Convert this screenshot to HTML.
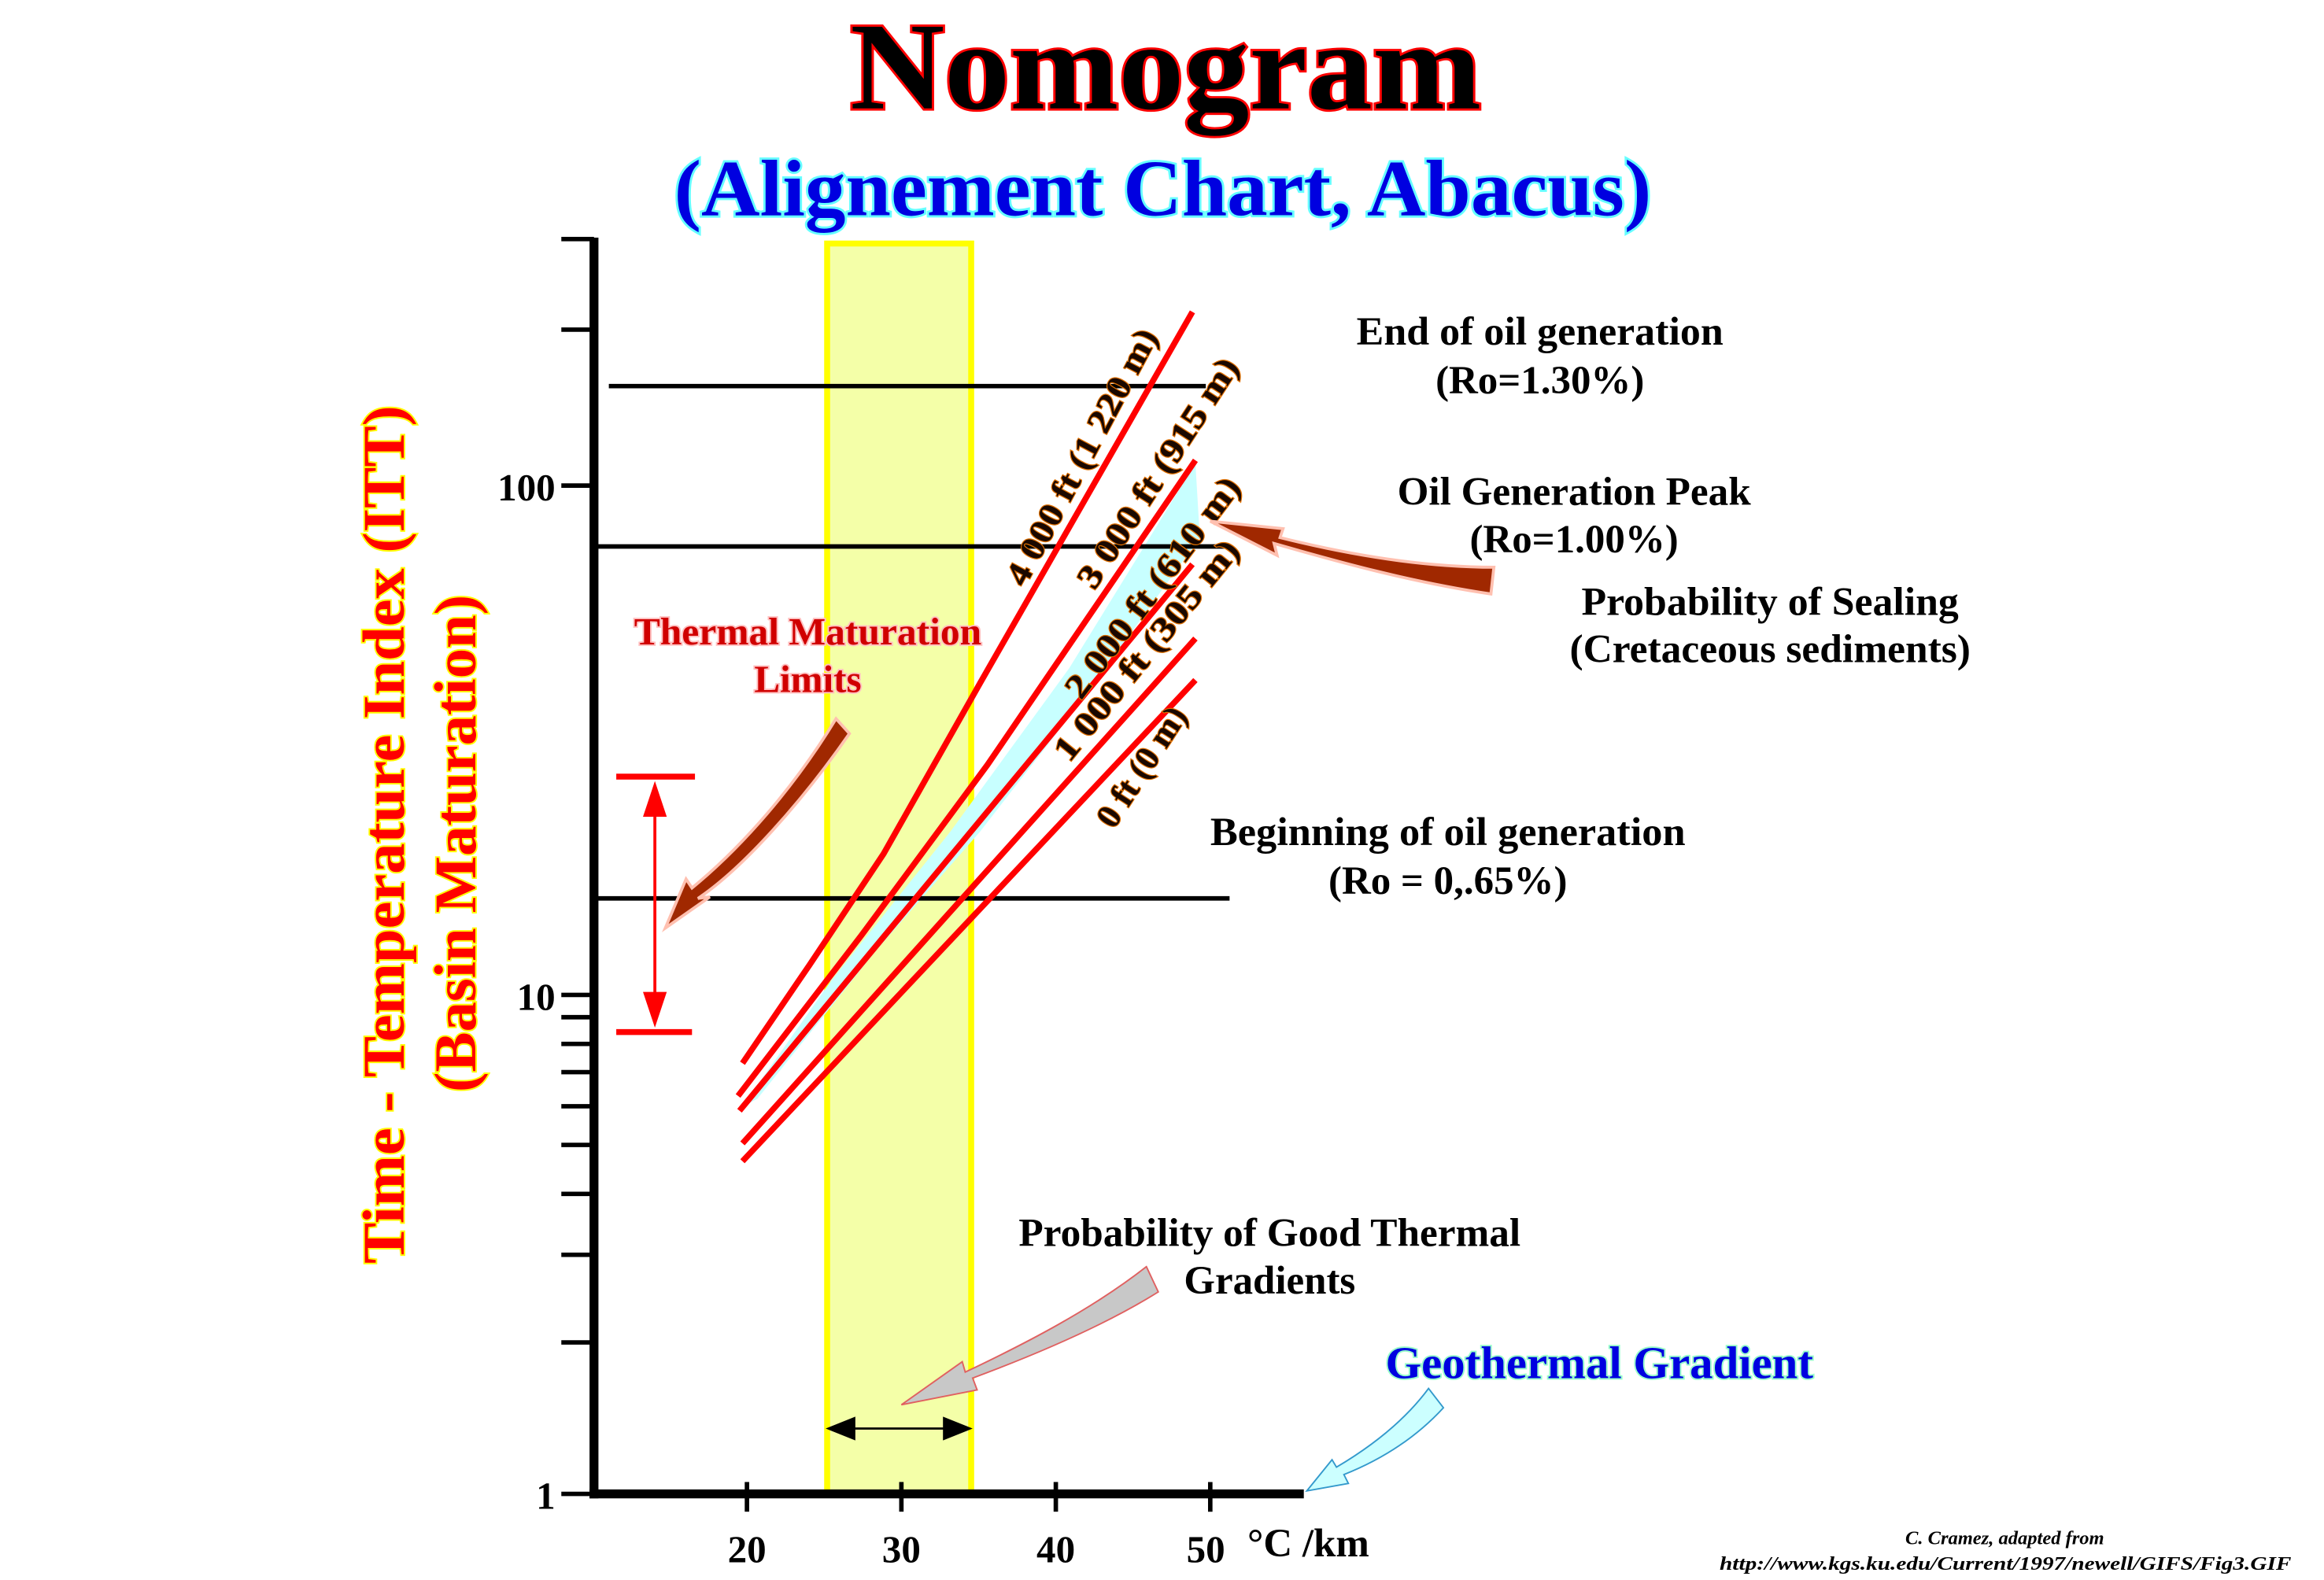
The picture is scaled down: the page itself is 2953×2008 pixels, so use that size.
<!DOCTYPE html>
<html><head><meta charset="utf-8"><style>html,body{margin:0;padding:0;background:#fff}svg{display:block}</style></head>
<body>
<svg width="2953" height="2008" viewBox="0 0 1565 1064" preserveAspectRatio="none" xmlns="http://www.w3.org/2000/svg" font-family="Liberation Serif, serif" font-weight="bold">
<rect width="1565" height="1064" fill="#fff"/>
<!-- titles -->
<text x="785" y="73" text-anchor="middle" font-size="84" fill="#000" stroke="#ff0000" stroke-width="3" paint-order="stroke" textLength="425" lengthAdjust="spacingAndGlyphs">Nomogram</text>
<text x="783" y="145" text-anchor="middle" font-size="54" fill="#0000e0" stroke="#66ffff" stroke-width="3" paint-order="stroke" textLength="658" lengthAdjust="spacingAndGlyphs">(Alignement Chart, Abacus)</text>
<!-- yellow band -->
<rect x="557" y="164" width="97" height="842" fill="#f4ffa8" stroke="#ffff00" stroke-width="4"/>
<!-- cyan region -->
<polygon points="805,312 808,362 730,470 660,560 590,640 510,740 500,745 560,660 640,560 720,450" fill="#c8ffff"/>
<!-- horizontal lines -->
<g stroke="#000" stroke-width="3">
<line x1="410" y1="260" x2="812" y2="260"/>
<line x1="400" y1="368" x2="827" y2="368"/>
<line x1="400" y1="605" x2="828" y2="605"/>
</g>
<!-- red lines -->
<g stroke="#ff0000" stroke-width="4" fill="none">
<polyline points="500,716 545,650 595,575 660,460 803,210"/>
<polyline points="497,738 580,630 665,515 805,310"/>
<polyline points="498,748 803,380"/>
<polyline points="500,770 805,430"/>
<polyline points="500,782 805,458"/>
</g>
<!-- line labels -->
<g font-size="23" fill="#1a0800" stroke="#e07000" stroke-width="1.2" paint-order="stroke">
<text transform="translate(690,396) rotate(-62)" textLength="192" lengthAdjust="spacingAndGlyphs">4 000 ft (1 220 m)</text>
<text transform="translate(737,398) rotate(-57)" textLength="180" lengthAdjust="spacingAndGlyphs">3 000 ft (915 m)</text>
<text transform="translate(728,472) rotate(-53)" textLength="180" lengthAdjust="spacingAndGlyphs">2 000 ft (610 m)</text>
<text transform="translate(720,514) rotate(-51)" textLength="184" lengthAdjust="spacingAndGlyphs">1 000 ft (305 m)</text>
<text transform="translate(750,559) rotate(-57)" textLength="92" lengthAdjust="spacingAndGlyphs">0 ft (0 m)</text>
</g>
<!-- axes -->
<g stroke="#000">
<line x1="400" y1="160" x2="400" y2="1009" stroke-width="6"/>
<line x1="397" y1="1006" x2="878" y2="1006" stroke-width="6"/>
<g stroke-width="3">
<line x1="378" y1="161" x2="400" y2="161"/>
<line x1="378" y1="222" x2="400" y2="222"/>
<line x1="378" y1="327" x2="400" y2="327"/>
<line x1="378" y1="670" x2="400" y2="670"/>
<line x1="378" y1="685" x2="400" y2="685"/>
<line x1="378" y1="703" x2="400" y2="703"/>
<line x1="378" y1="722" x2="400" y2="722"/>
<line x1="378" y1="745" x2="400" y2="745"/>
<line x1="378" y1="771" x2="400" y2="771"/>
<line x1="378" y1="804" x2="400" y2="804"/>
<line x1="378" y1="845" x2="400" y2="845"/>
<line x1="378" y1="904" x2="400" y2="904"/>
<line x1="378" y1="1006" x2="400" y2="1006"/>
<line x1="503" y1="998" x2="503" y2="1018"/>
<line x1="607" y1="998" x2="607" y2="1018"/>
<line x1="711" y1="998" x2="711" y2="1018"/>
<line x1="815" y1="998" x2="815" y2="1018"/>
</g></g>
<g font-size="26" fill="#000">
<text x="374" y="1016" text-anchor="end">1</text>
<text x="374" y="680" text-anchor="end">10</text>
<text x="374" y="337" text-anchor="end">100</text>
<text x="503" y="1052" text-anchor="middle">20</text>
<text x="607" y="1052" text-anchor="middle">30</text>
<text x="711" y="1052" text-anchor="middle">40</text>
<text x="812" y="1052" text-anchor="middle">50</text>
<text x="840" y="1048" font-size="27">°C /km</text>
</g>
<!-- y axis title -->
<g font-size="40" fill="#ff0000" stroke="#ffff00" stroke-width="2" paint-order="stroke" text-anchor="middle">
<text transform="translate(272,562) rotate(-90)" textLength="578" lengthAdjust="spacingAndGlyphs">Time - Temperature Index (ITT)</text>
<text transform="translate(320,568) rotate(-90)" textLength="335" lengthAdjust="spacingAndGlyphs">(Basin Maturation)</text>
</g>
<!-- annotations -->
<g font-size="27" fill="#000" text-anchor="middle">
<text x="1037" y="232" textLength="247" lengthAdjust="spacingAndGlyphs">End of oil generation</text>
<text x="1037" y="265">(Ro=1.30%)</text>
<text x="1060" y="340" textLength="238" lengthAdjust="spacingAndGlyphs">Oil Generation Peak</text>
<text x="1060" y="372">(Ro=1.00%)</text>
<text x="1192" y="414" textLength="254" lengthAdjust="spacingAndGlyphs">Probability of Sealing</text>
<text x="1192" y="446" textLength="270" lengthAdjust="spacingAndGlyphs">(Cretaceous sediments)</text>
<text x="975" y="569" textLength="320" lengthAdjust="spacingAndGlyphs">Beginning of oil generation</text>
<text x="975" y="602">(Ro = 0,.65%)</text>
<text x="855" y="839" textLength="338" lengthAdjust="spacingAndGlyphs">Probability of Good Thermal</text>
<text x="855" y="871">Gradients</text>
</g>
<text x="1077" y="928" text-anchor="middle" font-size="31" fill="#0000e0" stroke="#99ffcc" stroke-width="2" paint-order="stroke" textLength="288" lengthAdjust="spacingAndGlyphs">Geothermal Gradient</text>
<g font-size="26" fill="#d00000" stroke="#ffc0c0" stroke-width="2" paint-order="stroke" text-anchor="middle">
<text x="544" y="434" textLength="234" lengthAdjust="spacingAndGlyphs">Thermal Maturation</text>
<text x="544" y="466">Limits</text>
</g>
<!-- bracket -->
<g stroke="#ff0000" fill="#ff0000">
<line x1="415" y1="523" x2="468" y2="523" stroke-width="4"/>
<line x1="415" y1="695" x2="466" y2="695" stroke-width="4"/>
<line x1="441" y1="540" x2="441" y2="678" stroke-width="2"/>
<polygon points="441,526 433,550 449,550" stroke="none"/>
<polygon points="441,692 433,668 449,668" stroke="none"/>
</g>
<!-- brown arrows -->
<path d="M563,484 L572,494 C540,540 500,585 470,605 L478,604 L448,625 L462,592 L466,598 C500,570 535,530 563,484 Z" fill="#a02800" stroke="#ffc0b0" stroke-width="2"/>
<path d="M1006,382 L1004,400 C950,392 900,378 858,366 L860,374 L815,351 L864,356 L862,362 C910,374 960,382 1006,382 Z" fill="#a02800" stroke="#ffc0b0" stroke-width="2"/>
<!-- grey arrow -->
<path d="M772,853 L780,870 C740,895 690,915 655,928 L658,936 L607,946 L648,917 L650,924 C690,905 735,882 772,853 Z" fill="#c8c8c8" stroke="#e06060" stroke-width="1"/>
<!-- cyan arrow -->
<path d="M962,935 L972,948 C950,972 925,985 905,993 L908,999 L880,1004 L897,983 L900,988 C922,975 945,958 962,935 Z" fill="#ccffff" stroke="#3399cc" stroke-width="1"/>
<!-- double arrow -->
<line x1="570" y1="962" x2="641" y2="962" stroke="#000" stroke-width="1.5"/>
<polygon points="556,962 576,954 576,970" fill="#000"/>
<polygon points="655,962 635,954 635,970" fill="#000"/>
<!-- credit -->
<g font-size="13" font-style="italic" fill="#000">
<text x="1350" y="1040" text-anchor="middle">C. Cramez, adapted from</text>
<text x="1543" y="1057" text-anchor="end" textLength="385" lengthAdjust="spacingAndGlyphs">http://www.kgs.ku.edu/Current/1997/newell/GIFS/Fig3.GIF</text>
</g>
</svg>
</body></html>
